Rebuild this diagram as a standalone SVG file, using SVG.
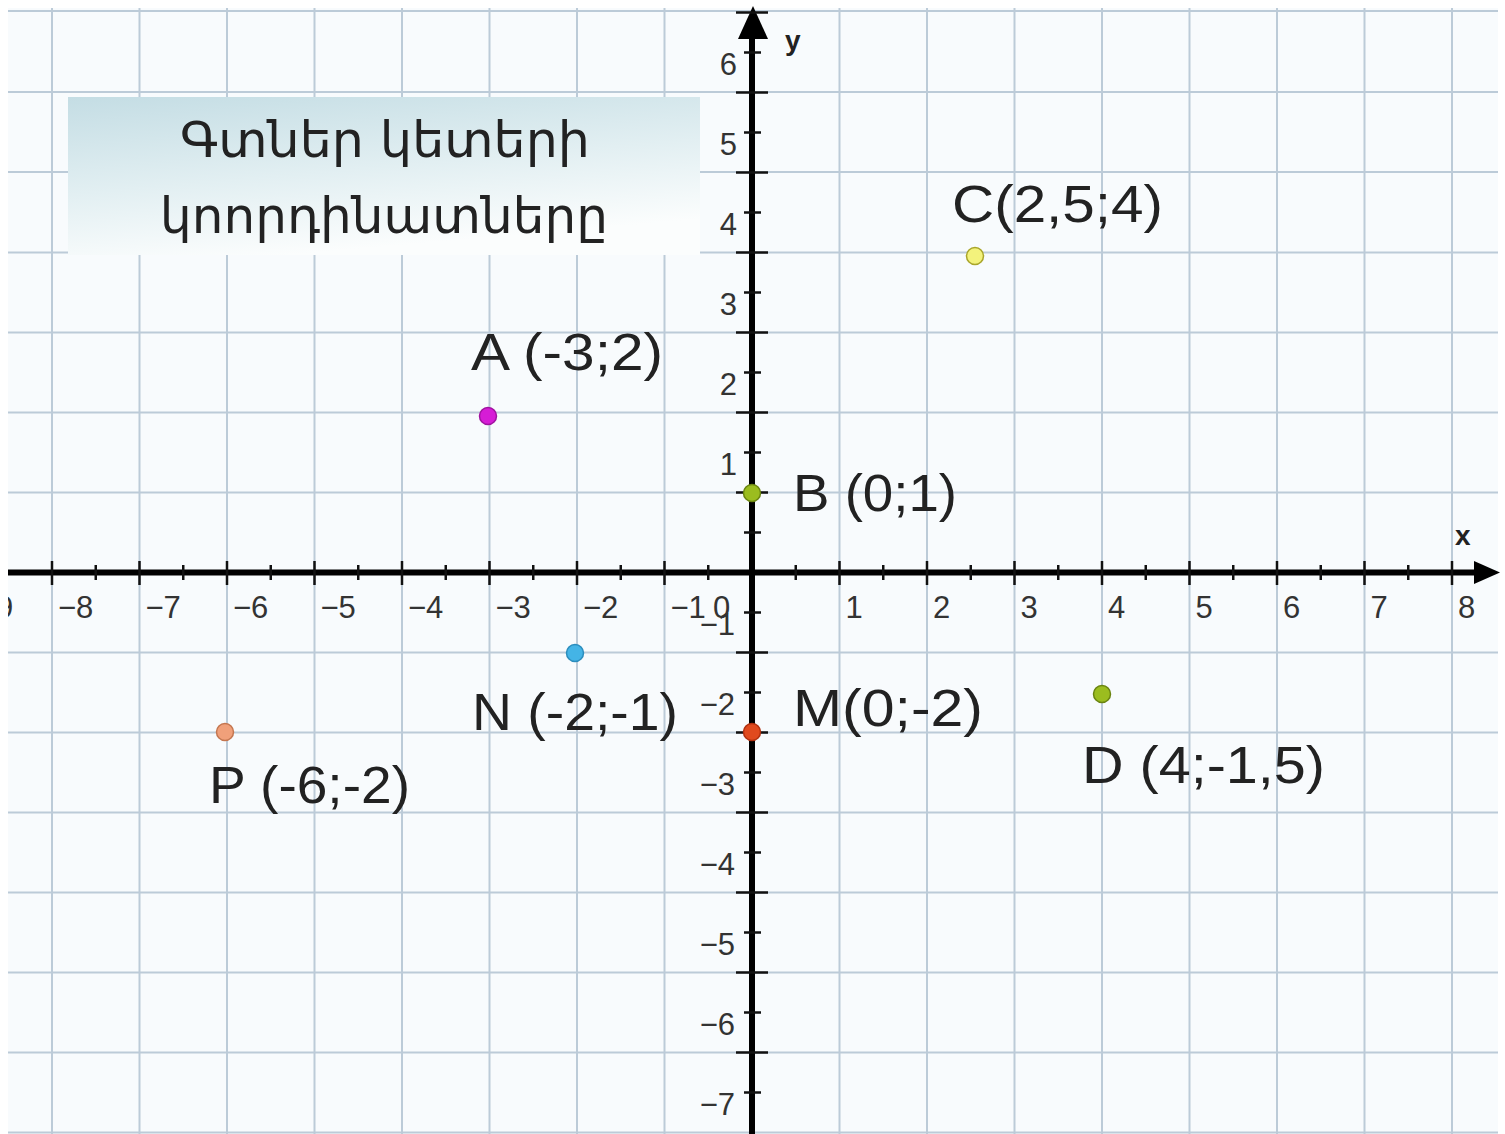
<svg xmlns="http://www.w3.org/2000/svg" width="1505" height="1134" viewBox="0 0 1505 1134">
<defs>
  <linearGradient id="tg" x1="0" y1="0" x2="0.35" y2="1">
    <stop offset="0" stop-color="#c4dde4"/>
    <stop offset="0.55" stop-color="#e2eff2"/>
    <stop offset="1" stop-color="#fbfdfd"/>
  </linearGradient>
  <clipPath id="area"><rect x="8" y="8" width="1490" height="1126"/></clipPath>
  <style>
    .grid line { stroke: #bccbd8; stroke-width: 2; }
    .axis { stroke: #000; stroke-width: 6; }
    .tick { stroke: #111; stroke-width: 2.5; }
    .num { font-family: "Liberation Sans", Arial, sans-serif; font-size: 31px; fill: #333; }
    .lab { font-family: "Liberation Sans", Arial, sans-serif; font-size: 51px; fill: #222; }
    .ax { font-family: "Liberation Sans", Arial, sans-serif; font-size: 28px; font-weight: bold; fill: #222; }
    .title { font-family: "DejaVu Sans", "Noto Sans", sans-serif; font-size: 50px; fill: #222; }
  </style>
</defs>
<rect x="0" y="0" width="1505" height="1134" fill="#ffffff"/>
<rect x="8" y="8" width="1490" height="1126" fill="#f8fbfd"/>
<g id="grid" class="grid" clip-path="url(#area)">
  <line x1="52" y1="8" x2="52" y2="1134"/>
  <line x1="139.5" y1="8" x2="139.5" y2="1134"/>
  <line x1="227" y1="8" x2="227" y2="1134"/>
  <line x1="314.5" y1="8" x2="314.5" y2="1134"/>
  <line x1="402" y1="8" x2="402" y2="1134"/>
  <line x1="489.5" y1="8" x2="489.5" y2="1134"/>
  <line x1="577" y1="8" x2="577" y2="1134"/>
  <line x1="664.5" y1="8" x2="664.5" y2="1134"/>
  <line x1="839.5" y1="8" x2="839.5" y2="1134"/>
  <line x1="927" y1="8" x2="927" y2="1134"/>
  <line x1="1014.5" y1="8" x2="1014.5" y2="1134"/>
  <line x1="1102" y1="8" x2="1102" y2="1134"/>
  <line x1="1189.5" y1="8" x2="1189.5" y2="1134"/>
  <line x1="1277" y1="8" x2="1277" y2="1134"/>
  <line x1="1364.5" y1="8" x2="1364.5" y2="1134"/>
  <line x1="1452" y1="8" x2="1452" y2="1134"/>
  <line x1="8" y1="11" x2="1498" y2="11"/>
  <line x1="8" y1="92" x2="1498" y2="92"/>
  <line x1="8" y1="172" x2="1498" y2="172"/>
  <line x1="8" y1="252.5" x2="1498" y2="252.5"/>
  <line x1="8" y1="332.5" x2="1498" y2="332.5"/>
  <line x1="8" y1="412.5" x2="1498" y2="412.5"/>
  <line x1="8" y1="492.5" x2="1498" y2="492.5"/>
  <line x1="8" y1="652.5" x2="1498" y2="652.5"/>
  <line x1="8" y1="732.5" x2="1498" y2="732.5"/>
  <line x1="8" y1="812.5" x2="1498" y2="812.5"/>
  <line x1="8" y1="892.5" x2="1498" y2="892.5"/>
  <line x1="8" y1="972.5" x2="1498" y2="972.5"/>
  <line x1="8" y1="1052.5" x2="1498" y2="1052.5"/>
  <line x1="8" y1="1132.5" x2="1498" y2="1132.5"/>
</g>
<g id="title">
  <rect x="68" y="97" width="632" height="158" fill="url(#tg)"/>
  <text class="title" x="180" y="157" textLength="410" lengthAdjust="spacingAndGlyphs">Գտներ կետերի</text>
  <text class="title" x="160" y="233" textLength="448" lengthAdjust="spacingAndGlyphs">կոորդինատները</text>
</g>
<g id="axes">
  <line class="axis" x1="8" y1="572.5" x2="1478" y2="572.5"/>
  <polygon points="1500,572.5 1474,561 1474,584" fill="#000"/>
  <line class="axis" x1="752" y1="1134" x2="752" y2="32"/>
  <polygon points="753,6 738,39 768,39" fill="#000"/>
  <g class="tick">
    <line x1="52" y1="561" x2="52" y2="585"/><line x1="139.5" y1="561" x2="139.5" y2="585"/>
    <line x1="227" y1="561" x2="227" y2="585"/><line x1="314.5" y1="561" x2="314.5" y2="585"/>
    <line x1="402" y1="561" x2="402" y2="585"/><line x1="489.5" y1="561" x2="489.5" y2="585"/>
    <line x1="577" y1="561" x2="577" y2="585"/><line x1="664.5" y1="561" x2="664.5" y2="585"/>
    <line x1="839.5" y1="561" x2="839.5" y2="585"/><line x1="927" y1="561" x2="927" y2="585"/>
    <line x1="1014.5" y1="561" x2="1014.5" y2="585"/><line x1="1102" y1="561" x2="1102" y2="585"/>
    <line x1="1189.5" y1="561" x2="1189.5" y2="585"/><line x1="1277" y1="561" x2="1277" y2="585"/>
    <line x1="1364.5" y1="561" x2="1364.5" y2="585"/><line x1="1452" y1="561" x2="1452" y2="585"/>
    <line x1="95.75" y1="565" x2="95.75" y2="580"/><line x1="183.25" y1="565" x2="183.25" y2="580"/>
    <line x1="270.75" y1="565" x2="270.75" y2="580"/><line x1="358.25" y1="565" x2="358.25" y2="580"/>
    <line x1="445.75" y1="565" x2="445.75" y2="580"/><line x1="533.25" y1="565" x2="533.25" y2="580"/>
    <line x1="620.75" y1="565" x2="620.75" y2="580"/><line x1="708.25" y1="565" x2="708.25" y2="580"/>
    <line x1="795.75" y1="565" x2="795.75" y2="580"/><line x1="883.25" y1="565" x2="883.25" y2="580"/>
    <line x1="970.75" y1="565" x2="970.75" y2="580"/><line x1="1058.25" y1="565" x2="1058.25" y2="580"/>
    <line x1="1145.75" y1="565" x2="1145.75" y2="580"/><line x1="1233.25" y1="565" x2="1233.25" y2="580"/>
    <line x1="1320.75" y1="565" x2="1320.75" y2="580"/><line x1="1408.25" y1="565" x2="1408.25" y2="580"/>
    <line x1="736" y1="12.5" x2="768" y2="12.5"/><line x1="736" y1="92.5" x2="768" y2="92.5"/>
    <line x1="736" y1="172.5" x2="768" y2="172.5"/><line x1="736" y1="252.5" x2="768" y2="252.5"/>
    <line x1="736" y1="332.5" x2="768" y2="332.5"/><line x1="736" y1="412.5" x2="768" y2="412.5"/>
    <line x1="736" y1="492.5" x2="768" y2="492.5"/><line x1="736" y1="652.5" x2="768" y2="652.5"/>
    <line x1="736" y1="732.5" x2="768" y2="732.5"/><line x1="736" y1="812.5" x2="768" y2="812.5"/>
    <line x1="736" y1="892.5" x2="768" y2="892.5"/><line x1="736" y1="972.5" x2="768" y2="972.5"/>
    <line x1="736" y1="1052.5" x2="768" y2="1052.5"/>
    <line x1="744" y1="52.5" x2="761" y2="52.5"/><line x1="744" y1="132.5" x2="761" y2="132.5"/>
    <line x1="744" y1="212.5" x2="761" y2="212.5"/><line x1="744" y1="292.5" x2="761" y2="292.5"/>
    <line x1="744" y1="372.5" x2="761" y2="372.5"/><line x1="744" y1="452.5" x2="761" y2="452.5"/>
    <line x1="744" y1="532.5" x2="761" y2="532.5"/><line x1="744" y1="612.5" x2="761" y2="612.5"/>
    <line x1="744" y1="692.5" x2="761" y2="692.5"/><line x1="744" y1="772.5" x2="761" y2="772.5"/>
    <line x1="744" y1="852.5" x2="761" y2="852.5"/><line x1="744" y1="932.5" x2="761" y2="932.5"/>
    <line x1="744" y1="1012.5" x2="761" y2="1012.5"/><line x1="744" y1="1092.5" x2="761" y2="1092.5"/>
  </g>
  <text class="ax" x="1455" y="545">x</text>
  <text class="ax" x="785" y="50">y</text>
</g>
<g id="xlabels" class="num" clip-path="url(#area)">
  <text x="-22" y="618">−9</text>
  <text x="58" y="618">−8</text>
  <text x="145.5" y="618">−7</text>
  <text x="233" y="618">−6</text>
  <text x="320.5" y="618">−5</text>
  <text x="408" y="618">−4</text>
  <text x="495.5" y="618">−3</text>
  <text x="583" y="618">−2</text>
  <text x="670.5" y="618">−1</text>
  <text x="713" y="618">0</text>
  <text x="845.5" y="618">1</text>
  <text x="933" y="618">2</text>
  <text x="1020.5" y="618">3</text>
  <text x="1108" y="618">4</text>
  <text x="1195.5" y="618">5</text>
  <text x="1283" y="618">6</text>
  <text x="1370.5" y="618">7</text>
  <text x="1458" y="618">8</text>
</g>
<g id="ylabels" class="num" text-anchor="end">
  <text x="737" y="75">6</text>
  <text x="737" y="155">5</text>
  <text x="737" y="235">4</text>
  <text x="737" y="315">3</text>
  <text x="737" y="395">2</text>
  <text x="737" y="475">1</text>
  <text x="735" y="635">−1</text>
  <text x="735" y="715">−2</text>
  <text x="735" y="795">−3</text>
  <text x="735" y="875">−4</text>
  <text x="735" y="955">−5</text>
  <text x="735" y="1035">−6</text>
  <text x="735" y="1115">−7</text>
</g>
<g id="pointA">
  <circle cx="488" cy="416" r="8.5" fill="#d61cd6" stroke="#a012a0" stroke-width="1.5"/>
  <text class="lab" x="471" y="370" textLength="192" lengthAdjust="spacingAndGlyphs">A (-3;2)</text>
</g>
<g id="pointC">
  <circle cx="975" cy="256" r="8.5" fill="#f3f27c" stroke="#a9a52a" stroke-width="1.5"/>
  <text class="lab" x="952" y="222" textLength="211" lengthAdjust="spacingAndGlyphs">C(2,5;4)</text>
</g>
<g id="pointB">
  <circle cx="752" cy="493" r="8.5" fill="#9bbd1f" stroke="#6a8410" stroke-width="1.5"/>
  <text class="lab" x="793" y="511" textLength="164" lengthAdjust="spacingAndGlyphs">B (0;1)</text>
</g>
<g id="pointN">
  <circle cx="575" cy="653" r="8.5" fill="#44b4e6" stroke="#2b8dbd" stroke-width="1.5"/>
  <text class="lab" x="472" y="730" textLength="206" lengthAdjust="spacingAndGlyphs">N (-2;-1)</text>
</g>
<g id="pointM">
  <circle cx="752" cy="732" r="8.5" fill="#e04a1e" stroke="#b0300f" stroke-width="1.5"/>
  <text class="lab" x="793" y="726" textLength="190" lengthAdjust="spacingAndGlyphs">M(0;-2)</text>
</g>
<g id="pointP">
  <circle cx="225" cy="732" r="8.5" fill="#f0a07a" stroke="#c47650" stroke-width="1.5"/>
  <text class="lab" x="209" y="803" textLength="201" lengthAdjust="spacingAndGlyphs">P (-6;-2)</text>
</g>
<g id="pointD">
  <circle cx="1102" cy="694" r="8.5" fill="#9bbd1f" stroke="#6a8410" stroke-width="1.5"/>
  <text class="lab" x="1082" y="783" textLength="243" lengthAdjust="spacingAndGlyphs">D (4;-1,5)</text>
</g>
</svg>
